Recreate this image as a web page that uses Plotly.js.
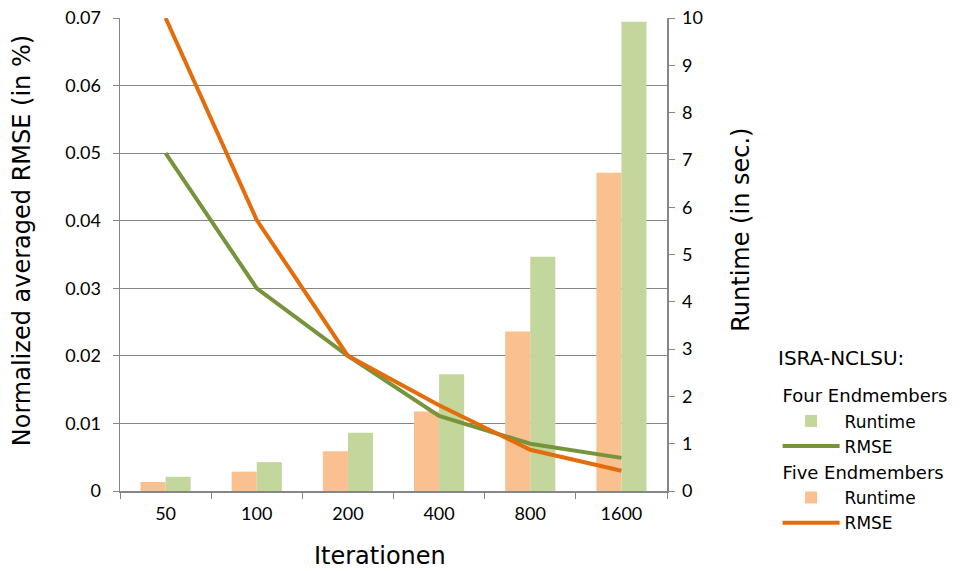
<!DOCTYPE html>
<html>
<head>
<meta charset="utf-8">
<script src="https://cdn.plot.ly/plotly-3.0.1.min.js"></script>
<style>html,body{margin:0;padding:0;background:#fff;}#chart{width:968px;height:571px;}</style>
</head>
<body>
<div id="chart"></div>
<script>
const iterations = ["50", "100", "200", "400", "800", "1600"];
const runtimeFour = [0.30, 0.61, 1.23, 2.47, 4.95, 9.92];
const runtimeFive = [0.19, 0.41, 0.84, 1.68, 3.37, 6.73];
const rmseFour = [0.050, 0.030, 0.020, 0.0111, 0.0070, 0.0049];
const rmseFive = [0.070, 0.0401, 0.0200, 0.0127, 0.0061, 0.0030];
const legendHeading = "ISRA-NCLSU:";
const xTitle = "Iterationen";
const yLeftTitle = "Normalized averaged RMSE (in %)";
const yRightTitle = "Runtime (in sec.)";

const tickFont = {family: "Lato, 'Open Sans', sans-serif", size: 18, color: "#000"};
const titleFont = {family: "'DejaVu Sans', sans-serif", size: 24, color: "#000"};
const legFont = {family: "'DejaVu Sans', sans-serif", size: 17, color: "#000"};
const groupFont = {family: "'DejaVu Sans', sans-serif", size: 18, color: "#000"};
const headFont = {family: "'DejaVu Sans', sans-serif", size: 20, color: "#000"};

const traces = [
  {type: "bar", x: iterations, y: runtimeFive, name: "Runtime", xaxis: "x", yaxis: "y",
   marker: {color: "#FAC090"}, legendgroup: "five", legendgrouptitle: {text: "Five Endmembers"}, legendrank: 3},
  {type: "bar", x: iterations, y: runtimeFour, name: "Runtime", xaxis: "x", yaxis: "y",
   marker: {color: "#C3D69B"}, legendgroup: "four", legendgrouptitle: {text: "Four Endmembers"}, legendrank: 1},
  {type: "scatter", mode: "lines", x: iterations, y: rmseFour, name: "RMSE", xaxis: "x", yaxis: "y2",
   line: {color: "#77933C", width: 4}, legendgroup: "four", legendrank: 2},
  {type: "scatter", mode: "lines", x: iterations, y: rmseFive, name: "RMSE", xaxis: "x", yaxis: "y2",
   line: {color: "#E46C0A", width: 4}, legendgroup: "five", legendrank: 4}
];

const layout = {
  width: 968, height: 571,
  margin: {l: 120, r: 300, t: 18, b: 80},
  paper_bgcolor: "#fff", plot_bgcolor: "#fff",
  barmode: "group", bargap: 0.45, bargroupgap: 0,
  showlegend: true,
  xaxis: {
    type: "category", tickson: "boundaries", ticks: "outside", ticklen: 6, tickcolor: "#868686",
    showline: true, linecolor: "#868686", linewidth: 1.5, showgrid: false,
    tickfont: tickFont, ticklabelstandoff: 6
  },
  yaxis: {
    side: "right", range: [0, 10], dtick: 1, showgrid: false, zeroline: false,
    ticks: "outside", ticklen: 6, tickcolor: "#868686",
    showline: true, linecolor: "#868686", linewidth: 1.5,
    tickfont: tickFont, ticklabelstandoff: 4
  },
  yaxis2: {
    overlaying: "y", side: "left", range: [0, 0.07], dtick: 0.01,
    showgrid: true, gridcolor: "#868686", gridwidth: 1, zeroline: false,
    ticks: "outside", ticklen: 6, tickcolor: "#868686",
    showline: true, linecolor: "#868686", linewidth: 1.5,
    tickfont: tickFont, ticklabelstandoff: 8
  },
  annotations: [
    {text: legendHeading, xref: "paper", yref: "paper", x: 1.2, xanchor: "left",
     y: 0.252, yanchor: "bottom", showarrow: false, font: headFont},
    {text: xTitle, xref: "paper", yref: "paper", x: 0.4745, xanchor: "center",
     y: -0.137, yanchor: "middle", showarrow: false, font: titleFont},
    {text: yLeftTitle, xref: "paper", yref: "paper", x: -0.1788, xanchor: "center",
     y: 0.5285, yanchor: "middle", textangle: -90, showarrow: false, font: titleFont},
    {text: yRightTitle, xref: "paper", yref: "paper", x: 1.135, xanchor: "center",
     y: 0.552, yanchor: "middle", textangle: -90, showarrow: false, font: titleFont}
  ],
  legend: {
    x: 1.2, xanchor: "left", y: 0.241, yanchor: "top",
    traceorder: "grouped", tracegroupgap: 0, itemwidth: 57,
    font: legFont,
    grouptitlefont: groupFont,
    bgcolor: "rgba(0,0,0,0)"
  }
};

Plotly.newPlot("chart", traces, layout, {displayModeBar: false, staticPlot: true});
</script>
</body>
</html>
